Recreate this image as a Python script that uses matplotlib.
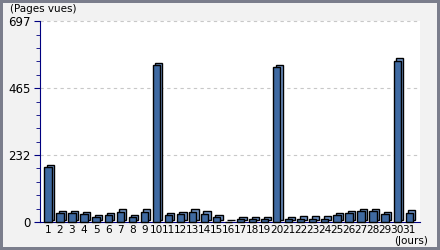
import matplotlib.pyplot as plt
import matplotlib.transforms as mtransforms
import numpy as np

days = list(range(1, 32))
views = [190, 30, 30, 27, 16, 24, 36, 16, 36, 544,
         24, 27, 36, 29, 16, 0, 10, 10, 10, 536,
         10, 12, 12, 12, 24, 30, 38, 38, 27, 559, 32]
yticks = [0, 232, 465, 697]

plt.rcParams['font.family'] = ['Liberation Sans Narrow', 'DejaVu Sans']

fig = plt.figure(figsize=(4.4, 2.5), dpi=100, facecolor='#f2f2f2',
                 edgecolor='#7b7e8c', linewidth=3)
ax = fig.add_axes([40 / 440, 1 - 222 / 250, 380 / 440, 201 / 250])
ax.set_facecolor('white')

# 3D look: a lighter copy shifted up/right behind each front bar
shift = mtransforms.offset_copy(ax.transData, fig=fig, x=2.5, y=2.5, units='dots')
ax.bar(days, views, width=0.6, color='#6f93c6', edgecolor='black',
       linewidth=1.0, transform=shift, zorder=2, clip_on=False)
ax.bar(days, views, width=0.6, color='#3f6aa2', edgecolor='black',
       linewidth=1.0, zorder=3, clip_on=False)

ax.set_xlim(0.34, 31.9)
ax.set_ylim(0, 697)
ax.set_yticks(yticks)
ax.set_yticks(np.arange(0, 697, 46.4), minor=True)
ax.set_xticks(days)
ax.set_xticklabels([str(d) for d in days])
ax.tick_params(axis='x', length=0, pad=2, labelsize=7.6)
ax.tick_params(axis='y', which='major', length=4, color='#000080', labelsize=8.5, pad=3)
ax.tick_params(axis='y', which='minor', length=3, color='#000080')

for y in yticks[1:]:
    ax.axhline(y, color='#c8c8c8', linestyle=(0, (3, 3)), linewidth=0.8, zorder=1, clip_on=False)

for s in ['top', 'right']:
    ax.spines[s].set_visible(False)
ax.spines['left'].set_color('#000080')
ax.spines['bottom'].set_color('#000080')

fig.text(10 / 440, 1 - 8.5 / 250, '(Pages vues)', fontsize=7.5, va='center', ha='left')
fig.text(428 / 440, 1 - 241 / 250, '(Jours)', fontsize=7.5, va='center', ha='right')

fig.savefig('out.png', dpi=100, facecolor=fig.get_facecolor(), edgecolor=fig.get_edgecolor())
